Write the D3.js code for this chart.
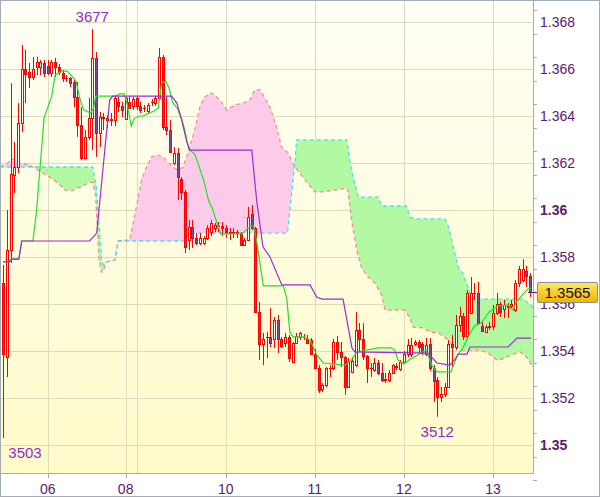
<!DOCTYPE html>
<html><head><meta charset="utf-8">
<script src="https://cdn.jsdelivr.net/npm/d3@7"></script>
<style>html,body{margin:0;padding:0;background:#fff}svg{display:block}</style>
</head><body>
<script>
// ---------- DATA ----------
const open  = [1.35689,1.35374,1.35830,1.36149,1.36183,1.36370,1.36600,1.36587,1.36566,1.36609,1.36609,1.36626,1.36613,1.36583,1.36630,1.36609,1.36583,1.36562,1.36562,1.36545,1.36481,1.36362,1.36221,1.36311,1.36391,1.36647,1.36328,1.36391,1.36383,1.36387,1.36383,1.36460,1.36443,1.36387,1.36460,1.36443,1.36477,1.36443,1.36434,1.36421,1.36460,1.36455,1.36477,1.36651,1.36353,1.36340,1.36200,1.36243,1.36132,1.36077,1.35872,1.35928,1.35881,1.35860,1.35860,1.35881,1.35906,1.35923,1.35932,1.35932,1.35923,1.35906,1.35906,1.35906,1.35902,1.35851,1.35872,1.35983,1.35923,1.35566,1.35430,1.35460,1.35460,1.35451,1.35532,1.35451,1.35434,1.35460,1.35353,1.35434,1.35460,1.35460,1.35451,1.35447,1.35387,1.35328,1.35238,1.35255,1.35328,1.35328,1.35438,1.35396,1.35374,1.35247,1.35311,1.35340,1.35489,1.35451,1.35379,1.35328,1.35319,1.35349,1.35306,1.35281,1.35277,1.35306,1.35336,1.35323,1.35353,1.35387,1.35387,1.35430,1.35438,1.35430,1.35387,1.35430,1.35328,1.35277,1.35204,1.35217,1.35247,1.35430,1.35417,1.35511,1.35549,1.35464,1.35562,1.35647,1.35647,1.35506,1.35481,1.35506,1.35506,1.35562,1.35600,1.35579,1.35591,1.35591,1.35574,1.35689,1.35702,1.35740,1.35719];
const high  = [1.35766,1.36000,1.36540,1.36289,1.36455,1.36702,1.36681,1.36626,1.36651,1.36651,1.36638,1.36638,1.36638,1.36638,1.36647,1.36621,1.36596,1.36574,1.36566,1.36553,1.36545,1.36438,1.36340,1.36477,1.36770,1.36672,1.36417,1.36413,1.36404,1.36413,1.36485,1.36481,1.36460,1.36481,1.36481,1.36481,1.36481,1.36460,1.36447,1.36455,1.36472,1.36485,1.36689,1.36660,1.36481,1.36383,1.36268,1.36264,1.36140,1.36085,1.35957,1.35957,1.35902,1.35902,1.35889,1.35936,1.35957,1.35945,1.35949,1.35949,1.35936,1.35923,1.35923,1.35915,1.35906,1.35881,1.36013,1.36021,1.35928,1.35609,1.35477,1.35481,1.35583,1.35545,1.35553,1.35460,1.35477,1.35468,1.35438,1.35477,1.35481,1.35472,1.35468,1.35455,1.35409,1.35340,1.35264,1.35332,1.35340,1.35451,1.35464,1.35438,1.35379,1.35370,1.35374,1.35566,1.35519,1.35519,1.35383,1.35349,1.35370,1.35362,1.35349,1.35306,1.35319,1.35345,1.35349,1.35362,1.35400,1.35451,1.35455,1.35447,1.35447,1.35438,1.35455,1.35455,1.35340,1.35289,1.35247,1.35264,1.35447,1.35468,1.35553,1.35587,1.35562,1.35660,1.35715,1.35689,1.35694,1.35523,1.35511,1.35523,1.35596,1.35647,1.35609,1.35617,1.35604,1.35617,1.35702,1.35762,1.35791,1.35762,1.35732];
const low   = [1.35030,1.35289,1.35774,1.36072,1.36157,1.36332,1.36455,1.36519,1.36553,1.36574,1.36574,1.36566,1.36574,1.36566,1.36566,1.36574,1.36545,1.36545,1.36523,1.36438,1.36311,1.36213,1.36215,1.36298,1.36255,1.36226,1.36268,1.36340,1.36349,1.36357,1.36357,1.36417,1.36396,1.36383,1.36436,1.36426,1.36426,1.36413,1.36417,1.36413,1.36443,1.36443,1.36468,1.36340,1.36319,1.36245,1.36191,1.36043,1.36043,1.35817,1.35830,1.35838,1.35851,1.35851,1.35851,1.35872,1.35889,1.35906,1.35906,1.35889,1.35881,1.35872,1.35881,1.35881,1.35851,1.35849,1.35870,1.35915,1.35562,1.35362,1.35340,1.35370,1.35417,1.35413,1.35391,1.35413,1.35417,1.35353,1.35350,1.35432,1.35447,1.35447,1.35434,1.35383,1.35328,1.35221,1.35226,1.35247,1.35289,1.35319,1.35362,1.35332,1.35213,1.35243,1.35306,1.35332,1.35396,1.35362,1.35264,1.35289,1.35311,1.35298,1.35268,1.35264,1.35268,1.35302,1.35319,1.35315,1.35349,1.35374,1.35374,1.35421,1.35391,1.35383,1.35379,1.35315,1.35183,1.35120,1.35183,1.35204,1.35243,1.35332,1.35404,1.35481,1.35447,1.35447,1.35560,1.35617,1.35511,1.35481,1.35479,1.35489,1.35489,1.35553,1.35545,1.35540,1.35540,1.35583,1.35566,1.35672,1.35694,1.35672,1.35630];
const close = [1.35387,1.35830,1.36153,1.36183,1.36370,1.36600,1.36579,1.36566,1.36600,1.36630,1.36630,1.36583,1.36583,1.36630,1.36609,1.36587,1.36562,1.36560,1.36540,1.36481,1.36362,1.36221,1.36311,1.36391,1.36647,1.36328,1.36396,1.36394,1.36391,1.36385,1.36477,1.36443,1.36426,1.36477,1.36436,1.36472,1.36443,1.36426,1.36432,1.36447,1.36458,1.36477,1.36651,1.36353,1.36340,1.36245,1.36243,1.36140,1.36077,1.35843,1.35928,1.35881,1.35860,1.35881,1.35881,1.35923,1.35945,1.35936,1.35930,1.35923,1.35906,1.35904,1.35904,1.35904,1.35851,1.35872,1.35970,1.35923,1.35566,1.35430,1.35451,1.35458,1.35434,1.35532,1.35451,1.35421,1.35460,1.35370,1.35434,1.35464,1.35477,1.35458,1.35434,1.35387,1.35328,1.35234,1.35255,1.35328,1.35326,1.35438,1.35396,1.35374,1.35247,1.35353,1.35357,1.35489,1.35451,1.35379,1.35328,1.35326,1.35349,1.35306,1.35277,1.35277,1.35306,1.35340,1.35334,1.35353,1.35387,1.35426,1.35426,1.35438,1.35417,1.35396,1.35426,1.35328,1.35272,1.35204,1.35217,1.35247,1.35430,1.35417,1.35511,1.35549,1.35464,1.35647,1.35647,1.35645,1.35519,1.35485,1.35502,1.35504,1.35562,1.35600,1.35566,1.35596,1.35589,1.35600,1.35689,1.35749,1.35749,1.35719,1.35650];

// Ichimoku lines: [bar index, price]
const tenkan = [[0,1.35779],[1.7,1.35779],[2.3,1.35791],[4.2,1.35791],[5,1.35868],[8,1.35868],[9,1.36000],[11,1.36391],[13,1.36481],[14,1.36574],[15.8,1.36591],[17.2,1.36591],[18.5,1.36570],[19.6,1.36549],[20.7,1.36472],[21.7,1.36426],[23.5,1.36413],[24.4,1.36434],[24.9,1.36485],[30.2,1.36485],[31.5,1.36494],[32.6,1.36494],[33.4,1.36451],[34.5,1.36357],[35.2,1.36387],[36.6,1.36400],[37.9,1.36400],[38.8,1.36409],[40.7,1.36421],[41.8,1.36434],[42.7,1.36540],[43.8,1.36549],[44.7,1.36519],[45.6,1.36460],[47,1.36430],[48,1.36391],[48.8,1.36349],[50,1.36260],[51.6,1.36238],[52.3,1.36209],[54.1,1.36123],[55.4,1.36038],[56.3,1.36009],[58.6,1.35898],[64.4,1.35898],[65.2,1.35911],[66.6,1.35932],[67.5,1.35932],[68.3,1.35868],[70.1,1.35677],[75.5,1.35677],[76.4,1.35626],[77.3,1.35477],[78.2,1.35460],[80.9,1.35460],[82.7,1.35447],[84.5,1.35383],[86.3,1.35349],[92.1,1.35340],[93.9,1.35362],[95.3,1.35396],[101.1,1.35413],[104.6,1.35413],[105.5,1.35404],[106.4,1.35362],[108,1.35345],[109.4,1.35362],[111.3,1.35379],[114,1.35404],[115.5,1.35340],[116.9,1.35311],[120.8,1.35311],[121.1,1.35328],[122.5,1.35383],[123.9,1.35413],[125.6,1.35468],[127,1.35506],[128.8,1.35519],[131,1.35566],[133.3,1.35591],[136,1.35596],[137.4,1.35574],[138.3,1.35609],[141.4,1.35664],[142.3,1.35668]];
const kijun = [[0,1.35779],[1.7,1.35779],[2.3,1.35791],[4.2,1.35791],[5,1.35868],[23.3,1.35868],[25.2,1.35902],[28.7,1.36468],[29.5,1.36485],[45.4,1.36485],[46.8,1.36455],[48.1,1.36383],[49.5,1.36289],[50.3,1.36255],[67,1.36255],[68.3,1.36043],[70,1.35843],[71.9,1.35800],[75.1,1.35681],[82.7,1.35681],[84.5,1.35630],[85.9,1.35621],[91.6,1.35621],[94,1.35413],[94.8,1.35396],[114.5,1.35391],[116.9,1.35349],[120.4,1.35340],[122,1.35370],[122.6,1.35387],[125,1.35387],[125.8,1.35417],[136.1,1.35417],[138.5,1.35455],[142.3,1.35455]];
const spanA = [[-0.9,1.36183],[1.2,1.36200],[2.6,1.36217],[3.9,1.36204],[5,1.36191],[6.6,1.36196],[8,1.36183],[9.3,1.36170],[10.7,1.36157],[12.5,1.36140],[14.4,1.36119],[15.8,1.36098],[16.6,1.36085],[18.5,1.36081],[19.8,1.36094],[21.2,1.36098],[22.8,1.36115],[24.1,1.36119],[24.9,1.36064],[25.8,1.35787],[26.5,1.35736],[26.9,1.35736],[27.8,1.35779],[30.1,1.35787],[31,1.35868],[34.1,1.35872],[35.9,1.36013],[37.3,1.36128],[38.6,1.36183],[40,1.36226],[41.7,1.36234],[43.1,1.36226],[44.4,1.36204],[45.8,1.36183],[47.1,1.36170],[48.5,1.36183],[49.8,1.36243],[51.6,1.36340],[53,1.36438],[54.3,1.36481],[56.1,1.36498],[57,1.36489],[58.8,1.36460],[60.2,1.36426],[62.4,1.36447],[64.7,1.36455],[66.5,1.36468],[67.8,1.36511],[69.2,1.36511],[70.5,1.36477],[71.9,1.36438],[73.7,1.36353],[75,1.36268],[76.8,1.36243],[78.6,1.36183],[81.8,1.36119],[84,1.36077],[86.2,1.36077],[91.2,1.36089],[92.6,1.36094],[93,1.36072],[93.9,1.35957],[95.3,1.35830],[96.6,1.35753],[98.4,1.35715],[100.2,1.35689],[102,1.35638],[102.9,1.35574],[103.8,1.35574],[108.3,1.35574],[109.6,1.35540],[110.5,1.35502],[113.2,1.35498],[115,1.35481],[117.3,1.35477],[120,1.35447],[121.3,1.35426],[123.6,1.35404],[128.5,1.35404],[130.8,1.35391],[133,1.35362],[133.9,1.35362],[137,1.35383],[139.3,1.35396],[141.1,1.35374],[142.9,1.35328]];
const spanB = [[-0.9,1.36183],[24.1,1.36183],[25.1,1.36098],[26,1.35902],[26.5,1.35779],[27.1,1.35766],[27.8,1.35779],[30.1,1.35787],[31,1.35868],[48.9,1.35868],[50.3,1.35902],[76.5,1.35902],[76.7,1.35915],[78.6,1.36200],[79.1,1.36298],[92.6,1.36298],[93.4,1.36213],[94.3,1.36140],[95.7,1.36055],[101.1,1.36055],[102,1.36017],[108.7,1.36017],[109.6,1.35970],[111.4,1.35962],[119.1,1.35962],[120,1.35928],[121.3,1.35843],[122.7,1.35753],[124,1.35728],[124.9,1.35689],[126.3,1.35621],[140.4,1.35621],[142.9,1.35583]];

const yTicks = [1.350,1.352,1.354,1.356,1.358,1.360,1.362,1.364,1.366,1.368];
const boldTicks = [1.350,1.360];
const dayLabels = ["06","08","10","11","12","13"];
const dayTickIdx = [12,33,60,84,108,132];
const gridIdx = [12,33,36,60,84,108,132];
const extremes = [{i:24, price:1.3677, label:"3677", pos:"above"},{i:0, price:1.3503, label:"3503", pos:"below"},{i:117, price:1.3512, label:"3512", pos:"below"}];
const lastPrice = 1.3565;

// ---------- LAYOUT ----------
const W=600,H=497, L=1,T=1,R=533,B=473;
const x = d3.scaleLinear().domain([-0.6,142.8]).range([L,R]);
const y = d3.scaleLinear().domain([1.35,1.368]).range([445,22]);

const svg = d3.select("body").append("svg").attr("width",W).attr("height",H);
const defs = svg.append("defs");
const bg = defs.append("linearGradient").attr("id","bg").attr("x1",0).attr("y1",0).attr("x2",0).attr("y2",1);
bg.append("stop").attr("offset","0%").attr("stop-color","#fffff6");
bg.append("stop").attr("offset","100%").attr("stop-color","#fffbc9");
const pg = defs.append("linearGradient").attr("id","pbox").attr("x1",0).attr("y1",0).attr("x2",0).attr("y2",1);
pg.append("stop").attr("offset","0%").attr("stop-color","#ffe866");
pg.append("stop").attr("offset","100%").attr("stop-color","#f2b400");
defs.append("clipPath").attr("id","plot").append("rect").attr("x",L).attr("y",T).attr("width",R-L).attr("height",B-T);

svg.append("rect").attr("x",0.5).attr("y",0.5).attr("width",W-1).attr("height",H-1).attr("fill","#fff").attr("stroke","#a3acb4");
svg.append("rect").attr("x",L).attr("y",T).attr("width",R-L).attr("height",B-T).attr("fill","url(#bg)");

const g = svg.append("g").attr("clip-path","url(#plot)");

// grid
g.selectAll(".hg").data(yTicks).join("line")
 .attr("x1",L).attr("x2",R).attr("y1",d=>Math.round(y(d))+0.5).attr("y2",d=>Math.round(y(d))+0.5)
 .attr("stroke","#dcdcbc").attr("stroke-width",1);
g.selectAll(".vg").data(gridIdx).join("line")
 .attr("y1",T).attr("y2",B).attr("x1",d=>Math.round(x(d))+0.5).attr("x2",d=>Math.round(x(d))+0.5)
 .attr("stroke","#dcdcbc").attr("stroke-width",1);

// cloud
function interp(arr,t){
  if(t<=arr[0][0]) return arr[0][1];
  for(let k=1;k<arr.length;k++){ if(t<=arr[k][0]){const a=arr[k-1],b=arr[k];return a[1]+(b[1]-a[1])*(t-a[0])/(b[0]-a[0]);} }
  return arr[arr.length-1][1];
}
const ts = Array.from(new Set(spanA.map(d=>d[0]).concat(spanB.map(d=>d[0])))).sort((a,b)=>a-b);
const band = ts.map(t=>({t,a:interp(spanA,t),b:interp(spanB,t)}));
defs.append("clipPath").attr("id","aboveA").append("path")
 .attr("d",d3.area().x(d=>x(d.t)).y0(-10).y1(d=>y(d.a))(band));
defs.append("clipPath").attr("id","belowA").append("path")
 .attr("d",d3.area().x(d=>x(d.t)).y0(d=>y(d.a)).y1(600)(band));
const bandArea = d3.area().x(d=>x(d.t)).y0(d=>y(d.a)).y1(d=>y(d.b));
g.append("g").attr("clip-path","url(#aboveA)").append("path").attr("d",bandArea(band)).attr("fill","#b2f9a2");
g.append("g").attr("clip-path","url(#belowA)").append("path").attr("d",bandArea(band)).attr("fill","#fccbea");
const ln = d3.line().x(d=>x(d[0])).y(d=>y(d[1]));
g.append("path").attr("d",ln(spanA)).attr("fill","none").attr("stroke","#f2918c").attr("stroke-width",1.3).attr("stroke-dasharray","4,3");
g.append("path").attr("d",ln(spanB)).attr("fill","none").attr("stroke","#3fe3f2").attr("stroke-width",1.3).attr("stroke-dasharray","4,3");

// candles
const candles = open.map((o,i)=>({i,o,h:high[i],l:low[i],c:close[i]}));
const cg = g.append("g");
candles.forEach(d=>{
  const cx = Math.round(x(d.i));
  cg.append("line").attr("x1",cx+0.5).attr("x2",cx+0.5).attr("y1",y(d.h)).attr("y2",y(d.l)).attr("stroke","#ff0000").attr("stroke-width",1);
  const top = Math.round(y(Math.max(d.o,d.c))), bot = Math.round(y(Math.min(d.o,d.c)));
  const bull = d.c>=d.o;
  cg.append("rect").attr("x",cx-0.5).attr("y",top+0.5).attr("width",2).attr("height",Math.max(0.01,bot-top))
    .attr("fill",bull?"#fffff4":"#7a4a98").attr("stroke","#ff0000").attr("stroke-width",1);
});

// tenkan / kijun
g.append("path").attr("d",ln(tenkan)).attr("fill","none").attr("stroke","#22e022").attr("stroke-width",1.2);
g.append("path").attr("d",ln(kijun)).attr("fill","none").attr("stroke","#9b2cd3").attr("stroke-width",1.2);

// extremes labels
extremes.forEach(e=>{
  let cx = x(e.i);
  const wtxt = 34;
  cx = Math.max(cx, L+7+wtxt/2);
  svg.append("text").attr("x",cx).attr("y", e.pos==="above"? y(e.price)-7 : y(e.price)+20)
    .attr("text-anchor","middle").attr("font-family","Liberation Sans, Arial, sans-serif").attr("font-size",15)
    .attr("fill","#8e2ed0").text(e.label);
});

// axes
svg.append("line").attr("x1",R+0.5).attr("x2",R+0.5).attr("y1",T).attr("y2",B+1).attr("stroke","#a3acb4");
svg.append("line").attr("x1",L).attr("x2",R+1).attr("y1",B+0.5).attr("y2",B+0.5).attr("stroke","#a3acb4");
const minor = d3.range(1.3485,1.3690,0.001);
svg.selectAll(".mt").data(minor).join("line")
 .attr("x1",R).attr("x2",R+4).attr("y1",d=>Math.round(y(d))+0.5).attr("y2",d=>Math.round(y(d))+0.5).attr("stroke","#a3acb4");
svg.selectAll(".yl").data(yTicks).join("text")
 .attr("x",540).attr("y",d=>y(d)+5)
 .attr("font-family","Liberation Sans, Arial, sans-serif").attr("font-size",14)
 .attr("font-weight",d=>boldTicks.includes(d)?"bold":"normal")
 .attr("fill","#5c1a6a").text(d=>boldTicks.includes(d)? d3.format(".2f")(d): d3.format(".3f")(d));
svg.selectAll(".xt").data(dayTickIdx).join("line")
 .attr("x1",d=>Math.round(x(d))+0.5).attr("x2",d=>Math.round(x(d))+0.5).attr("y1",B).attr("y2",B+5).attr("stroke","#a3acb4");
svg.selectAll(".xl").data(dayTickIdx).join("text")
 .attr("x",d=>x(d)).attr("y",494).attr("text-anchor","middle")
 .attr("font-family","Liberation Sans, Arial, sans-serif").attr("font-size",14)
 .attr("fill","#5c1a6a").text((d,i)=>dayLabels[i]);

// last price marker
const ly = Math.round(y(lastPrice))+0.5;
svg.append("line").attr("x1",R-5).attr("x2",R+5).attr("y1",ly).attr("y2",ly).attr("stroke","#6a1a7a");
svg.append("rect").attr("x",537.5).attr("y",ly-10).attr("width",60).attr("height",20).attr("rx",1.5)
 .attr("fill","url(#pbox)").attr("stroke","#8a8e96");
svg.append("text").attr("x",567.5).attr("y",ly+5.5).attr("text-anchor","middle")
 .attr("font-family","Liberation Sans, Arial, sans-serif").attr("font-size",15).attr("fill","#111")
 .text(d3.format(".4f")(lastPrice));
</script>
</body></html>
